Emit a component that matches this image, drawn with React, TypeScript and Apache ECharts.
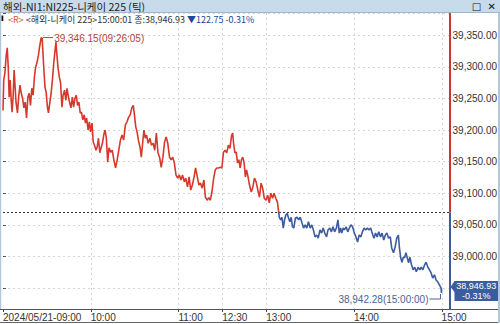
import React, { useEffect, useRef } from 'react';
import * as echarts from 'echarts';

const TITLE = '해외-NI1:NI225-니케이 225 (틱)';
const SERIES_NAME = '해외-니케이 225';
const LAST_TIME = '15:00:01';
const PREV_CLOSE = 39069.68;
const LAST = 38946.93;
const CHANGE = -122.75;
const CHANGE_PCT = -0.31;
const HIGH = 39346.15;
const HIGH_TIME = '09:26:05';
const HIGH_MIN = 26.1;
const LOW = 38942.28;
const LOW_TIME = '15:00:00';
const LOW_MIN = 299.9;

// trading minutes since 09:00 (lunch break 11:30-12:30 removed)
const sessionMinutes = [
  0, 0.5, 1.3, 2.2, 2.9, 3.6, 4.2, 4.9, 5.6, 6.2, 6.9, 7.6, 8.3, 8.9, 9.9, 10.7, 11.6, 12.5, 13.4, 14.3,
  15.2, 16.1, 17, 17.9, 18.8, 19.7, 20.6, 21.5, 22.3, 23.3, 24.2, 25, 26.1, 26.8, 27.7, 28.7, 29.5, 30.4, 31.1, 32,
  32.9, 33.8, 34.7, 35.6, 36.2, 36.9, 37.6, 38.5, 39.4, 40.3, 41.1, 42.1, 43, 43.8, 44.8, 45.6, 46.5, 47.4, 48.3, 49.2,
  50.1, 51, 51.9, 52.8, 53.7, 54.6, 55.5, 56.4, 57.2, 58.2, 59.1, 59.9, 60.9, 61.7, 62.6, 63.6, 64.4, 65.3, 66.2, 67.1,
  68, 68.9, 69.8, 70.7, 71.6, 72.5,
  73.6, 74.7, 75.8, 77, 78.1, 79.2, 80.3, 81.4, 82.5, 83.7, 84.8, 85.9, 87, 88.1, 89.1, 89.9, 90.8, 91.7, 92.6, 93.8,
  94.6, 95.5, 96.4, 97.3, 98.2, 99.3, 100.5, 101.5, 102.7, 103.8, 104.9, 106, 107.2, 108.2, 109.4, 110.5, 111.6, 112.7, 113.9, 115,
  116.1, 117.2, 118.3, 119.5, 120.6, 121.7, 122.8, 124, 125, 126.2, 127.3, 128.4, 129.5, 130.7, 131.7, 132.9, 134, 135.1, 136.2, 137.4,
  138.4, 139.6, 140.7, 141.8, 142.9, 144.1, 145.2, 146.3, 147.4, 148.5, 149.7, 150.8, 151.9,
  153, 154.2, 155.2, 156.4, 157.1, 157.7, 158.6, 159.5, 160.4, 161.3, 162.2, 163.1, 164, 164.9, 165.8, 166.6, 167.6, 168.6, 169.8, 170.9,
  172, 173.1, 174.3, 175.4, 176.5, 177.6, 178.7, 179.9, 181, 182.1, 183.2, 184.4, 185.4, 186.6, 187.7, 188.4, 189, 189.9, 190.8, 191.7,
  192.6, 193.5, 194.4, 195.3, 196.2, 197.1, 198, 198.9, 200, 201.1, 202.2, 203.3, 204.5, 205.6, 206.7, 207.8, 208.9, 210.1, 211.2, 212.3,
  213.4, 214.6, 215.6, 216.8, 217.9, 219, 220.1, 221.3, 222.3, 223.5, 224.6, 225.7,
  226.8, 228, 229.1, 230, 230.9, 231.7, 232.7, 233.5, 234.7, 235.8, 236.9, 238, 239.1, 240.3, 241.4, 242.5, 243.6, 244.8, 245.8, 247,
  248.1, 249.2, 250.3, 251.5, 252.5, 253.7, 254.8, 255.9, 257, 258.2, 259.3, 260.4, 261.5, 262.6, 263.7, 264.9, 265.9, 267.1, 268.2, 269.3,
  270.4, 271.1, 272, 272.9, 273.8, 274.7, 275.6, 276.5, 277.4, 278.3, 279.4, 280.5, 281.6, 282.7, 283.9, 285, 286.1, 287.2, 288.4, 289.4,
  290.6, 291.7, 292.8, 293.9, 295.1, 296.2, 297.3, 298.5, 299.6, 299.9, 300,
];

const prices = [
  39231, 39279, 39290, 39318, 39330, 39299, 39252, 39279, 39247, 39228, 39252, 39295, 39268, 39244, 39227, 39252, 39271, 39258, 39250, 39235,
  39244, 39219, 39252, 39258, 39239, 39266, 39255, 39284, 39299, 39307, 39318, 39331, 39346.15, 39345, 39306, 39268, 39260, 39236, 39227, 39243,
  39258, 39279, 39306, 39326, 39339, 39318, 39299, 39284, 39274, 39236, 39255, 39263, 39247, 39266, 39252, 39243, 39235, 39252, 39236, 39250,
  39255, 39239, 39244, 39227, 39228, 39216, 39224, 39211, 39219, 39200, 39213, 39197, 39211, 39181, 39176, 39168, 39173, 39187, 39164, 39172,
  39179, 39192, 39200, 39187, 39149, 39172,
  39165, 39168, 39153, 39140, 39153, 39168, 39184, 39192, 39184, 39208, 39213, 39220, 39224, 39235, 39239, 39224, 39205, 39197, 39184, 39172,
  39157, 39179, 39200, 39187, 39192, 39179, 39187, 39176, 39179, 39168, 39195, 39164, 39156, 39141, 39157, 39181, 39189, 39179, 39157, 39153,
  39157, 39148, 39129, 39124, 39129, 39121, 39129, 39118, 39124, 39110, 39126, 39105, 39113, 39126, 39140, 39126, 39113, 39116, 39108, 39121,
  39094, 39089, 39093, 39089, 39102, 39124, 39137, 39140, 39140, 39141, 39140, 39165, 39168,
  39164, 39176, 39171, 39192, 39195, 39179, 39164, 39165, 39148, 39153, 39140, 39153, 39157, 39148, 39126, 39137, 39126, 39113, 39102, 39110,
  39124, 39118, 39105, 39094, 39116, 39108, 39092, 39089, 39097, 39085, 39100, 39092, 39100, 39092, 39086, 39073, 39062, 39058, 39062, 39045,
  39058, 39066, 39068, 39061, 39055, 39062, 39047, 39045, 39061, 39062, 39058, 39062, 39053, 39045, 39050, 39045, 39055, 39045, 39050, 39042,
  39031, 39034, 39029, 39042, 39037, 39045, 39037, 39031, 39042, 39045, 39039, 39047,
  39039, 39045, 39058, 39037, 39045, 39037, 39045, 39042, 39047, 39039, 39045, 39050, 39047, 39037, 39031, 39023, 39034, 39031, 39039, 39045,
  39042, 39045, 39042, 39045, 39037, 39029, 39037, 39031, 39039, 39031, 39037, 39026, 39034, 39037, 39029, 39031, 39013, 39006, 39015, 39029,
  39034, 39015, 38998, 38991, 38999, 38998, 39006, 38998, 38990, 38999, 38987, 38979, 38983, 38976, 38983, 38979, 38983, 38979, 38987, 38991,
  38983, 38979, 38974, 38966, 38971, 38963, 38960, 38955, 38950, 38942.28, 38946.93,
];

const tickMinutes = [0, 60, 120, 150, 180, 240, 300];
const tickLabels = ['2024/05/21-09:00', '10:00', '11:00', '12:30', '13:00', '14:00', '15:00'];

const RED = '#d8382b';
const BLUE = '#3b5c9f';
const GRID_COLOR = '#d4d4d4';
const NUM_FONT = "'Liberation Sans Narrow', 'Liberation Sans', Arial, sans-serif";
const KR_FONT = "'Liberation Sans Narrow', 'Noto Sans CJK KR', sans-serif";
const SYM_FONT = "'DejaVu Sans', sans-serif";

const fmt = (v: number) =>
  v.toLocaleString('en-US', { minimumFractionDigits: 2, maximumFractionDigits: 2 });

const txt = (x: number, yTop: number, text: string, fill: string, size: number, font: string, align = 'left', z = 21) => ({
  type: 'text',
  x,
  y: yTop,
  z,
  silent: true,
  style: {
    text,
    fill,
    font: `${size}px ${font}`,
    align,
    textAlign: align,
    verticalAlign: 'top',
    textVerticalAlign: 'top',
  },
});

export default function App() {
  const ref = useRef<HTMLDivElement>(null);

  useEffect(() => {
    const el = ref.current!;
    const chart = echarts.init(el, null, { renderer: 'svg' });
    const data = sessionMinutes.map((m, i) => [m, prices[i]]);
    const X_MAX = 305.4;
    const Y_MIN = 38917;
    const Y_MAX = 39385;

    chart.setOption({
      animation: false,
      title: {
        text: `{t|${TITLE}}{b|□  ✕}`,
        left: 0,
        top: 0,
        padding: [1, 4, 1, 3],
        backgroundColor: '#c8dbeb',
        textStyle: {
          width: 493,
          lineHeight: 11,
          fontWeight: 'normal',
          rich: {
            t: { fontSize: 10.5, lineHeight: 11, fontWeight: 'normal', color: '#1c1c1c', fontFamily: KR_FONT },
            b: { fontSize: 10, lineHeight: 11, fontWeight: 'normal', color: '#111', fontFamily: SYM_FONT, align: 'right' },
          },
        },
      },
      grid: { left: 2, right: 43, top: 13, bottom: 15, containLabel: false },
      xAxis: {
        type: 'value',
        min: 0,
        max: X_MAX,
        interval: 30,
        axisLine: { show: false },
        splitLine: { show: false },
        axisTick: { show: false },
        axisLabel: {
          formatter: (v: number) => {
            const i = tickMinutes.indexOf(Math.round(v));
            return i >= 0 ? tickLabels[i] : '';
          },
          align: 'left',
          margin: 3,
          fontSize: 10,
          color: '#333',
          fontFamily: NUM_FONT,
        },
      },
      yAxis: {
        type: 'value',
        position: 'right',
        min: Y_MIN,
        max: Y_MAX,
        splitNumber: 9,
        axisLine: { show: false },
        axisTick: { show: true, length: 3, lineStyle: { color: '#555' } },
        splitLine: { show: true, lineStyle: { type: [2, 3], color: GRID_COLOR, width: 1 } },
        axisLabel: {
          formatter: (v: number) => (v < 38990 || v > 39360 || v % 50 !== 0 ? '' : fmt(v)),
          margin: 3,
          fontSize: 10,
          color: '#333',
          fontFamily: NUM_FONT,
        },
      },
      series: [
        {
          type: 'line',
          data,
          showSymbol: false,
          symbol: 'none',
          lineStyle: { width: 1.6, color: RED },
          z: 3,
        },
      ],
    });

    const px = (m: number, v: number) => chart.convertToPixel({ gridIndex: 0 }, [m, v]) as number[];
    const [, gyTop] = px(0, Y_MAX);
    const [gx1, gyBot] = px(X_MAX, Y_MIN);
    const gx0 = px(0, Y_MIN)[0];
    const yPrev = px(0, PREV_CLOSE)[1];
    const pH = px(HIGH_MIN, HIGH);
    const pL = px(LOW_MIN, LOW);
    const pC = px(300, LAST);

    // line coloured red above / blue below the previous close
    const t = (yPrev - gyTop) / (gyBot - gyTop);
    const lineColor = new echarts.graphic.LinearGradient(0, gyTop, 0, gyBot, [
      { offset: 0, color: RED },
      { offset: t, color: RED },
      { offset: t, color: BLUE },
      { offset: 1, color: BLUE },
    ], true);

    const graphic: any[] = [
      { type: 'rect', z: 20, silent: true, shape: { x: 0, y: 12, width: 500, height: 1 }, style: { fill: '#9fb6cc' } },
    ];

    // vertical grid lines and x ticks at labelled times
    tickMinutes.forEach((m, i) => {
      const x = Math.round(px(m, Y_MIN)[0]) + 0.5;
      if (i > 0) {
        graphic.push({
          type: 'line', z: 1, silent: true,
          shape: { x1: x, y1: gyTop, x2: x, y2: gyBot },
          style: { stroke: GRID_COLOR, lineWidth: 1, lineDash: [2, 3] },
        });
      }
      graphic.push({
        type: 'line', z: 15, silent: true,
        shape: { x1: x, y1: gyBot, x2: x, y2: gyBot + 3 },
        style: { stroke: '#444', lineWidth: 1 },
      });
    });

    // previous close dotted line
    graphic.push({
      type: 'line', z: 2, silent: true,
      shape: { x1: gx0, y1: Math.round(yPrev) + 0.5, x2: gx1, y2: Math.round(yPrev) + 0.5 },
      style: { stroke: '#333', lineWidth: 1, lineDash: [2, 2] },
    });

    const boxCx = (gx1 + 5 + 498) / 2;

    graphic.push(
      // window side borders
      { type: 'rect', z: 20, silent: true, shape: { x: 0, y: 13, width: 1.2, height: gyBot - 13 }, style: { fill: '#b4c7da' } },
      { type: 'rect', z: 20, silent: true, shape: { x: 498, y: 13, width: 2, height: 310 }, style: { fill: '#b4c7da' } },
      // legend line
      { type: 'rect', z: 21, silent: true, shape: { x: 1.5, y: 15.5, width: 1.8, height: 5.5 }, style: { fill: '#111' } },
      {
        type: 'text', x: 8, y: 14.5, z: 21, silent: true,
        style: {
          text: `{r|<R>} {n|<${SERIES_NAME}>${LAST_TIME} 종:${fmt(LAST)}} {b|▼${fmt(Math.abs(CHANGE))} ${CHANGE_PCT.toFixed(2)}%}`,
          font: `9px ${KR_FONT}`,
          verticalAlign: 'top',
          textVerticalAlign: 'top',
          rich: {
            r: { fill: '#d8542c', font: `9px ${KR_FONT}` },
            n: { fill: '#333', font: `9px ${KR_FONT}` },
            b: { fill: '#24449a', font: `9px ${KR_FONT}` },
          },
        },
      },
      // coloured y axis line
      { type: 'line', z: 15, silent: true, shape: { x1: gx1 + 0.5, y1: gyTop, x2: gx1 + 0.5, y2: yPrev }, style: { stroke: '#c63a2e', lineWidth: 2 } },
      { type: 'line', z: 15, silent: true, shape: { x1: gx1 + 0.5, y1: yPrev, x2: gx1 + 0.5, y2: gyBot }, style: { stroke: BLUE, lineWidth: 2 } },
      // x axis band lines
      { type: 'line', z: 15, silent: true, shape: { x1: 0, y1: gyBot + 0.5, x2: 500, y2: gyBot + 0.5 }, style: { stroke: '#555', lineWidth: 1 } },
      { type: 'line', z: 15, silent: true, shape: { x1: 0, y1: 322.5, x2: 500, y2: 322.5 }, style: { stroke: '#666', lineWidth: 1 } },
      // high annotation
      { type: 'line', z: 16, silent: true, shape: { x1: pH[0] + 2, y1: pH[1], x2: pH[0] + 12, y2: pH[1] }, style: { stroke: '#b0463a', lineWidth: 1 } },
      txt(pH[0] + 13, pH[1] - 4.5, `${fmt(HIGH)}(${HIGH_TIME})`, '#b0463a', 10, NUM_FONT, 'left', 16),
      // low annotation
      {
        type: 'polyline', z: 16, silent: true,
        shape: { points: [[pL[0] - 12, pL[1] + 6], [pL[0] - 1, pL[1] + 6], [pL[0] - 1, pL[1] + 1]] },
        style: { stroke: '#4a6496', lineWidth: 1, fill: 'none' },
      },
      txt(pL[0] - 13, pL[1] + 1.5, `${fmt(LOW)}(${LOW_TIME})`, '#4a6496', 10, NUM_FONT, 'right', 16),
      // last value box
      {
        type: 'polygon', z: 17, silent: true,
        shape: {
          points: [
            [gx1 + 1, pC[1] - 3],
            [gx1 + 5, pC[1] - 9],
            [498, pC[1] - 9],
            [498, pC[1] + 11],
            [gx1 + 5, pC[1] + 11],
            [gx1 + 5, pC[1] + 2],
          ],
        },
        style: { fill: BLUE },
      },
      txt(boxCx, pC[1] - 8.5, fmt(LAST), '#fff', 9, NUM_FONT, 'center', 18),
      txt(boxCx, pC[1] + 1.5, `${CHANGE_PCT.toFixed(2)}%`, '#fff', 9, NUM_FONT, 'center', 18),
    );

    chart.setOption({
      series: [{ lineStyle: { width: 1.6, color: lineColor } }],
      graphic,
    });

    return () => chart.dispose();
  }, []);

  return (
    <div
      ref={ref}
      style={{ position: 'fixed', left: 0, top: 0, width: 500, height: 324, background: '#fff' }}
    />
  );
}
